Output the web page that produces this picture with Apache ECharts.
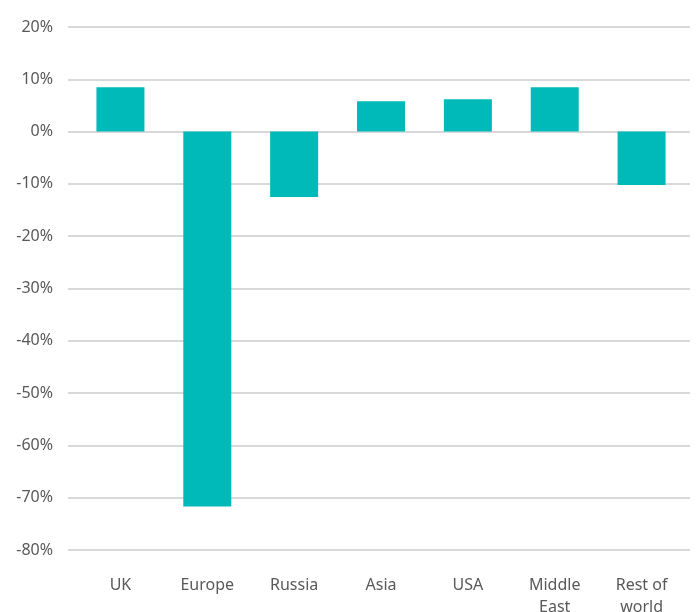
<!DOCTYPE html>
<html>
<head>
<meta charset="utf-8">
<script src="https://cdn.jsdelivr.net/npm/echarts@6/dist/echarts.min.js"></script>
<style>html,body{margin:0;padding:0;background:#fff;}#c{width:696px;height:612px;}</style>
</head>
<body>
<div id="c"></div>
<script>
var categories = ['UK', 'Europe', 'Russia', 'Asia', 'USA', 'Middle\nEast', 'Rest of\nworld'];
var values = [8.5, -71.7, -12.5, 5.8, 6.2, 8.5, -10.2];
var yMin = -80, yMax = 20, yStep = 10;

var chart = echarts.init(document.getElementById('c'), null, {renderer: 'canvas'});
var font = '"Noto Sans", sans-serif';
chart.setOption({
  animation: false,
  grid: [
    {left: 68, right: 6, top: 27, bottom: 62, containLabel: false, outerBoundsMode: 'none'},
    {left: 77, right: 11, top: 27, bottom: 62, containLabel: false, outerBoundsMode: 'none'}
  ],
  xAxis: [
    {gridIndex: 0, type: 'category', data: categories, show: false},
    {gridIndex: 1, type: 'category', data: categories,
      axisLine: {show: false}, axisTick: {show: false},
      axisLabel: {color: '#595959', fontSize: 16, fontFamily: font, margin: 24, lineHeight: 22, interval: 0}}
  ],
  yAxis: [
    {gridIndex: 0, type: 'value', min: yMin, max: yMax, interval: yStep,
      axisLine: {show: false}, axisTick: {show: false},
      axisLabel: {color: '#595959', fontSize: 16, fontFamily: font, margin: 15, formatter: '{value}%'},
      splitLine: {lineStyle: {color: '#D9D9D9', width: 2}}},
    {gridIndex: 1, type: 'value', min: yMin, max: yMax, interval: yStep, show: false, splitLine: {show: false}}
  ],
  series: [{
    type: 'bar', xAxisIndex: 1, yAxisIndex: 1,
    data: values, barWidth: 48,
    itemStyle: {color: '#00B9B9'}
  }]
});
</script>
</body>
</html>
